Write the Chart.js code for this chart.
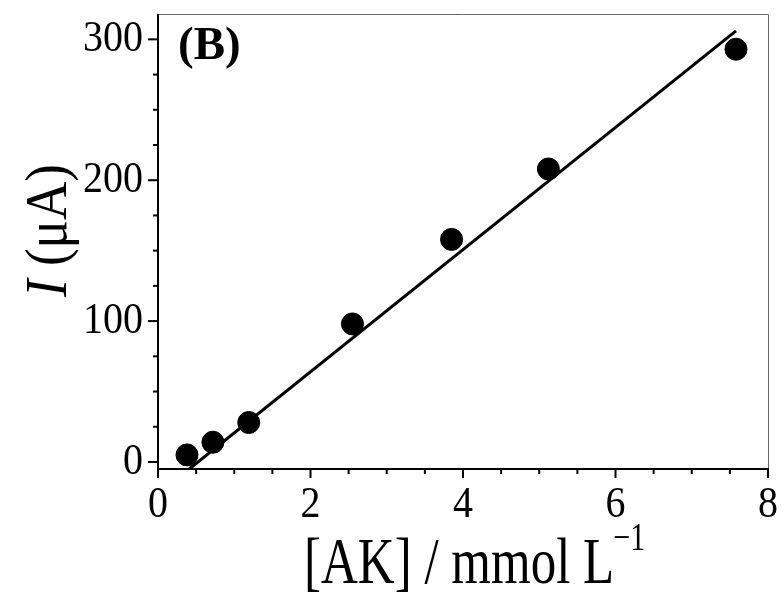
<!DOCTYPE html>
<html>
<head>
<meta charset="utf-8">
<script src="https://cdn.jsdelivr.net/npm/chart.js@4.4.0/dist/chart.umd.min.js"></script>
<style>
  body { margin: 0; background: #fff; }
  #wrap { width: 784px; height: 593px; }
</style>
</head>
<body>
<div id="wrap"><canvas id="chart"></canvas></div>
<script>
// Points mesurés
const concAK = [0.38, 0.72, 1.19, 2.55, 3.85, 5.12, 7.58];
const current = [5, 14, 28, 98, 158, 208, 293];

// Droite d'étalonnage (extrémités)
const fitX = [0.41, 7.58];
const fitY = [-5, 306];

// Graduations
const xTicks = [0, 2, 4, 6, 8];
const xMinor = [0.5, 1, 1.5, 2.5, 3, 3.5, 4.5, 5, 5.5, 6.5, 7, 7.5];
const yTicks = [0, 100, 200, 300];
const yMinor = [25, 50, 75, 125, 150, 175, 225, 250, 275];

const serif = '"Liberation Serif", "Times New Roman", serif';

// texte étiré verticalement (la figure d'origine est un peu étirée)
function tallText(c, txt, x, y, sy) {
  c.save();
  c.translate(x, y);
  c.scale(1, sy);
  c.fillText(txt, 0, 0);
  c.restore();
}

// Cadre, graduations et titres dessinés à la main
const decor = {
  id: 'decor',
  afterDraw(chart) {
    const c = chart.ctx;
    const a = chart.chartArea;
    const xs = chart.scales.x, ys = chart.scales.y;
    c.save();
    // bord haut et droit
    c.strokeStyle = '#666';
    c.lineWidth = 1;
    c.beginPath();
    c.moveTo(a.left, a.top + 0.5);
    c.lineTo(a.right + 0.5, a.top + 0.5);
    c.lineTo(a.right + 0.5, a.bottom);
    c.stroke();
    // axes
    c.strokeStyle = '#000';
    c.lineWidth = 2;
    c.beginPath();
    c.moveTo(a.left, a.top);
    c.lineTo(a.left, a.bottom);
    c.lineTo(a.right + 1, a.bottom);
    c.stroke();
    // graduations x
    xTicks.forEach(v => {
      const p = xs.getPixelForValue(v);
      c.beginPath(); c.moveTo(p, a.bottom); c.lineTo(p, a.bottom + 9); c.stroke();
    });
    xMinor.forEach(v => {
      const p = xs.getPixelForValue(v);
      c.beginPath(); c.moveTo(p, a.bottom); c.lineTo(p, a.bottom + 5); c.stroke();
    });
    // graduations y
    yTicks.forEach(v => {
      const p = ys.getPixelForValue(v);
      c.beginPath(); c.moveTo(a.left, p); c.lineTo(a.left - 10, p); c.stroke();
    });
    yMinor.forEach(v => {
      const p = ys.getPixelForValue(v);
      c.beginPath(); c.moveTo(a.left, p); c.lineTo(a.left - 5, p); c.stroke();
    });
    c.fillStyle = '#000';
    c.textBaseline = 'alphabetic';
    // libellés des graduations
    c.font = '40px ' + serif;
    c.textAlign = 'center';
    xTicks.forEach(v => {
      tallText(c, String(v), xs.getPixelForValue(v), a.bottom + 48, 1.12);
    });
    c.textAlign = 'right';
    yTicks.forEach(v => {
      tallText(c, String(v), a.left - 15, ys.getPixelForValue(v) + 12, 1.12);
    });
    // étiquette (B)
    c.font = 'bold 47px ' + serif;
    c.textAlign = 'left';
    c.fillText('(B)', 178, 59);
    // titre axe x
    c.font = '51px ' + serif;
    const main = '[AK] / mmol L';
    const wMain = c.measureText(main).width;
    tallText(c, main, 304, 583, 1.3);
    c.font = '30px ' + serif;
    tallText(c, '\u22121', 304 + wMain - 1, 550, 1.3);
    // titre axe y
    c.translate(66, 297);
    c.rotate(-Math.PI / 2);
    c.scale(1, 1.12);
    c.font = 'italic 53px ' + serif;
    c.fillText('I', 0, 0);
    const wI = c.measureText('I ').width;
    c.font = '53px ' + serif;
    c.fillText('(\u03bcA)', wI, 0);
    c.restore();
  }
};

const ctx = document.getElementById('chart').getContext('2d');
new Chart(ctx, {
  data: {
    datasets: [
      {
        type: 'line',
        data: fitX.map((x, i) => ({ x: x, y: fitY[i] })),
        borderColor: '#000',
        borderWidth: 3,
        pointRadius: 0,
        fill: false,
        order: 2
      },
      {
        type: 'scatter',
        data: concAK.map((x, i) => ({ x: x, y: current[i] })),
        backgroundColor: '#000',
        borderColor: '#000',
        pointRadius: 11,
        order: 1
      }
    ]
  },
  options: {
    responsive: true,
    maintainAspectRatio: false,
    animation: false,
    events: [],
    layout: { padding: { left: 0, right: 16, top: 14, bottom: 0 } },
    plugins: { legend: { display: false }, tooltip: { enabled: false } },
    scales: {
      x: {
        type: 'linear',
        min: 0,
        max: 8,
        grid: { display: false },
        border: { display: false },
        ticks: { display: false },
        afterFit: s => { s.height = 124; s.paddingLeft = 0; s.paddingRight = 0; }
      },
      y: {
        type: 'linear',
        min: -5,
        max: 318,
        grid: { display: false },
        border: { display: false },
        ticks: { display: false },
        afterFit: s => { s.width = 158; s.paddingTop = 0; s.paddingBottom = 0; }
      }
    }
  },
  plugins: [decor]
});
</script>
</body>
</html>
